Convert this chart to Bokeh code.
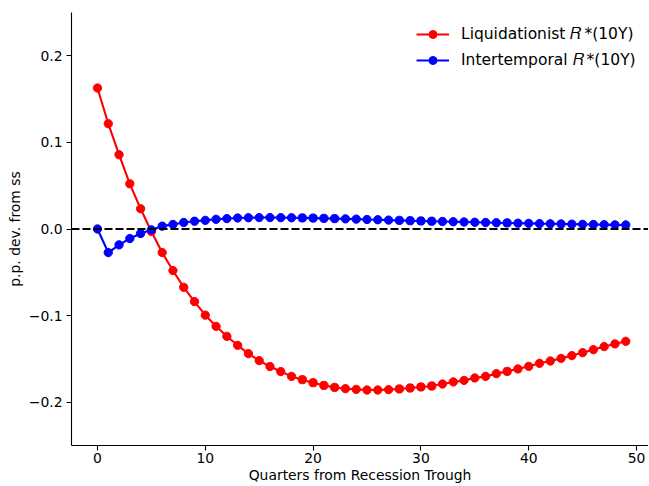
from bokeh.plotting import figure
from bokeh.models import (ColumnDataSource, Span, FixedTicker, Range1d, Legend, LegendItem)
from bokeh.embed import file_html
from bokeh.resources import INLINE

quarters = list(range(50))

liquidationist = [
    0.1628, 0.1216, 0.0858, 0.0522, 0.0234, -0.0029, -0.0272, -0.0480, -0.0673, -0.0838,
    -0.0995, -0.1124, -0.1239, -0.1343, -0.1439, -0.1520, -0.1588, -0.1646, -0.1702, -0.1740,
    -0.1775, -0.1806, -0.1829, -0.1844, -0.1852, -0.1859, -0.1859, -0.1855, -0.1847, -0.1836,
    -0.1824, -0.1813, -0.1790, -0.1766, -0.1748, -0.1720, -0.1702, -0.1670, -0.1644, -0.1616,
    -0.1586, -0.1551, -0.1524, -0.1494, -0.1462, -0.1428, -0.1393, -0.1358, -0.1327, -0.1297,
]

intertemporal = [
    0.0000, -0.0272, -0.0183, -0.0110, -0.0052, -0.0010, 0.0033, 0.0053, 0.0075, 0.0090,
    0.0100, 0.0112, 0.0120, 0.0127, 0.0130, 0.0132, 0.0132, 0.0131, 0.0130, 0.0128,
    0.0126, 0.0123, 0.0120, 0.0117, 0.0114, 0.0110, 0.0107, 0.0103, 0.0100, 0.0096,
    0.0093, 0.0090, 0.0087, 0.0084, 0.0081, 0.0078, 0.0075, 0.0072, 0.0070, 0.0067,
    0.0065, 0.0062, 0.0060, 0.0058, 0.0056, 0.0054, 0.0052, 0.0050, 0.0048, 0.0047,
]

x_ticks = [0, 10, 20, 30, 40, 50]
x_tick_labels = ["0", "10", "20", "30", "40", "50"]
y_ticks = [-0.2, -0.1, 0.0, 0.1, 0.2]
y_tick_labels = ["\u22120.2", "\u22120.1", "0.0", "0.1", "0.2"]

series_names = ["Liquidationist \U0001D445\u2009*(10Y)", "Intertemporal \U0001D445\u2009*(10Y)"]
series_colors = ["#ff0000", "#0000ff"]

FONT = "DejaVu Sans"
FS = "13.9px"
LEGEND_FS = "15.5px"

p = figure(width=648, height=486, output_backend="svg", toolbar_location=None,
           x_range=Range1d(-2.41, 51.11), y_range=Range1d(-0.25, 0.25),
           min_border_left=71, min_border_right=0, min_border_top=12, min_border_bottom=41)
p.outline_line_color = None
p.grid.visible = False
p.background_fill_color = "white"
p.border_fill_color = "white"

for ax in (p.xaxis, p.yaxis):
    ax.axis_line_color = "#000000"
    ax.axis_line_width = 1.1
    ax.major_tick_line_color = "#000000"
    ax.major_tick_line_width = 1.1
    ax.major_tick_out = 5
    ax.major_tick_in = 0
    ax.minor_tick_line_color = None
    ax.major_label_text_font = FONT
    ax.major_label_text_font_size = FS
    ax.major_label_text_color = "#000000"
    ax.axis_label_text_font = FONT
    ax.axis_label_text_font_size = FS
    ax.axis_label_text_font_style = "normal"
    ax.axis_label_text_color = "#000000"

p.xaxis.ticker = FixedTicker(ticks=x_ticks)
p.xaxis.major_label_overrides = {t: l for t, l in zip(x_ticks, x_tick_labels)}
p.yaxis.ticker = FixedTicker(ticks=y_ticks)
p.yaxis.major_label_overrides = {t: l for t, l in zip(y_ticks, y_tick_labels)}
p.xaxis.axis_label = "Quarters from Recession Trough"
p.yaxis.axis_label = "p.p. dev. from ss"
p.xaxis.major_label_standoff = 2
p.yaxis.major_label_standoff = 4
p.xaxis.axis_label_standoff = 1
p.yaxis.axis_label_standoff = 3

items = []
for vals, name, color in zip([liquidationist, intertemporal], series_names, series_colors):
    src = ColumnDataSource(dict(x=quarters, y=vals))
    ln = p.line("x", "y", source=src, line_color=color, line_width=2.1)
    sc = p.scatter("x", "y", source=src, size=8.3, fill_color=color, line_color=color, line_width=1)
    items.append(LegendItem(label=name, renderers=[ln, sc]))

zero = Span(location=0, dimension="width", line_color="#000000", line_width=2.1, line_dash="8 3")
p.add_layout(zero)

legend = Legend(items=items, location=(345, 375), border_line_color=None,
                background_fill_alpha=0, padding=0, margin=0, spacing=6,
                glyph_width=33, glyph_height=20, label_height=20, label_standoff=12,
                label_text_font=FONT, label_text_font_size=LEGEND_FS, label_text_color="#000000")
p.add_layout(legend)

open("out.html", "w").write(file_html(p, INLINE))
